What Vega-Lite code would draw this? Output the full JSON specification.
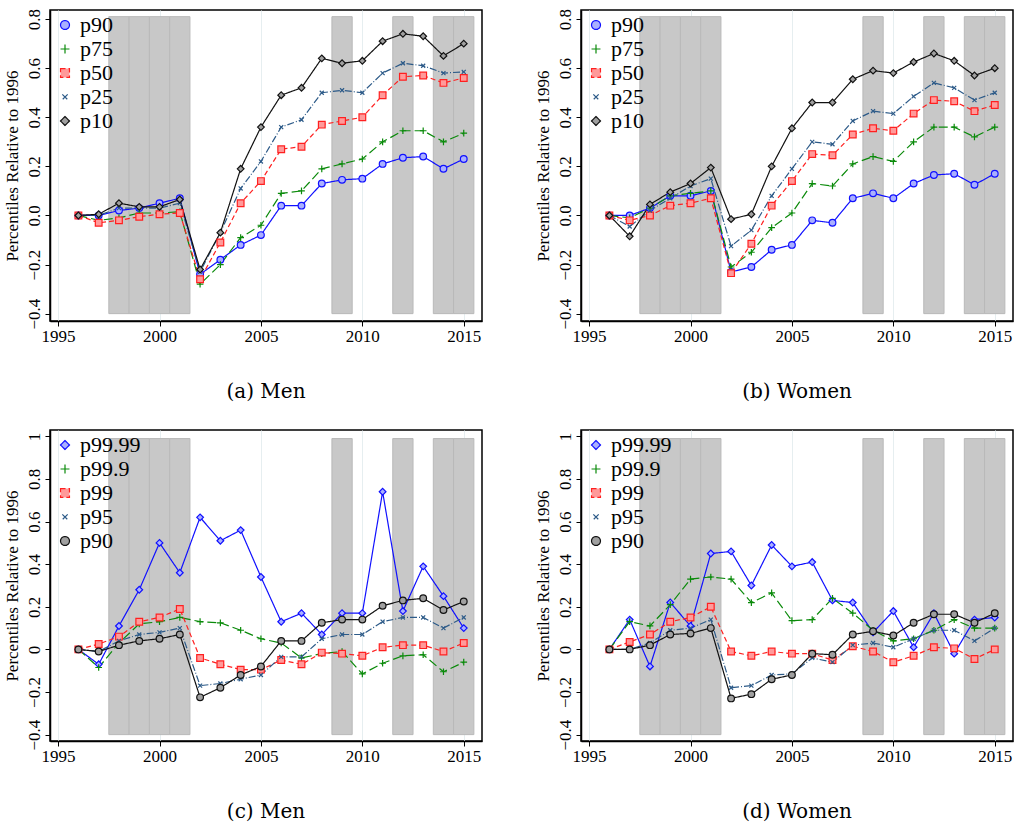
{
  "$schema": "https://vega.github.io/schema/vega-lite/v6.json",
  "background": "white",
  "padding": {"left": 2, "top": 7, "right": 0, "bottom": 5},
  "config": {
    "view": {"stroke": "black", "strokeWidth": 1.5},
    "axis": {"labelFont": "Times New Roman, Liberation Serif, serif", "labelFontSize": 17, "labelColor": "black", "titleFont": "Times New Roman, Liberation Serif, serif", "titleFontSize": 17, "titleFontWeight": "normal", "gridColor": "#e6eef0", "tickColor": "black", "domainColor": "black", "domainWidth": 1.5},
    "legend": {"labelFont": "Times New Roman, Liberation Serif, serif", "labelFontSize": 22, "orient": "top-left", "offset": 4, "symbolSize": 80, "symbolStrokeWidth": 1.2, "rowPadding": 2},
    "title": {"font": "DejaVu Serif", "fontSize": 20, "fontWeight": "normal", "orient": "bottom", "offset": 38}
  },
  "datasets": {
    "bands": [
      {"a": 1997.5, "b": 1998.5}, {"a": 1998.5, "b": 1999.5}, {"a": 1999.5, "b": 2000.5}, {"a": 2000.5, "b": 2001.5},
      {"a": 2008.5, "b": 2009.5}, {"a": 2011.5, "b": 2012.5}, {"a": 2013.5, "b": 2014.5}, {"a": 2014.5, "b": 2015.5}
    ],
    "men": [
      {"year": 1996, "p90": 0, "p75": 0, "p50": 0, "p25": 0, "p10": 0},
      {"year": 1997, "p90": 0, "p75": -0.02, "p50": -0.03, "p25": 0, "p10": 0.005},
      {"year": 1998, "p90": 0.02, "p75": -0.01, "p50": -0.02, "p25": 0.03, "p10": 0.05},
      {"year": 1999, "p90": 0.03, "p75": 0.01, "p50": -0.005, "p25": 0.03, "p10": 0.035},
      {"year": 2000, "p90": 0.05, "p75": 0.01, "p50": 0.005, "p25": 0.03, "p10": 0.035},
      {"year": 2001, "p90": 0.07, "p75": 0.015, "p50": 0.01, "p25": 0.05, "p10": 0.065},
      {"year": 2002, "p90": -0.24, "p75": -0.28, "p50": -0.26, "p25": -0.23, "p10": -0.22},
      {"year": 2003, "p90": -0.18, "p75": -0.2, "p50": -0.11, "p25": -0.07, "p10": -0.07},
      {"year": 2004, "p90": -0.12, "p75": -0.09, "p50": 0.05, "p25": 0.11, "p10": 0.19},
      {"year": 2005, "p90": -0.08, "p75": -0.04, "p50": 0.14, "p25": 0.22, "p10": 0.36},
      {"year": 2006, "p90": 0.04, "p75": 0.09, "p50": 0.27, "p25": 0.36, "p10": 0.49},
      {"year": 2007, "p90": 0.04, "p75": 0.1, "p50": 0.28, "p25": 0.39, "p10": 0.52},
      {"year": 2008, "p90": 0.13, "p75": 0.19, "p50": 0.37, "p25": 0.5, "p10": 0.64},
      {"year": 2009, "p90": 0.145, "p75": 0.21, "p50": 0.385, "p25": 0.51, "p10": 0.62},
      {"year": 2010, "p90": 0.15, "p75": 0.23, "p50": 0.4, "p25": 0.5, "p10": 0.63},
      {"year": 2011, "p90": 0.21, "p75": 0.3, "p50": 0.49, "p25": 0.58, "p10": 0.71},
      {"year": 2012, "p90": 0.235, "p75": 0.345, "p50": 0.565, "p25": 0.62, "p10": 0.74},
      {"year": 2013, "p90": 0.24, "p75": 0.345, "p50": 0.57, "p25": 0.61, "p10": 0.73},
      {"year": 2014, "p90": 0.19, "p75": 0.3, "p50": 0.54, "p25": 0.58, "p10": 0.65},
      {"year": 2015, "p90": 0.23, "p75": 0.335, "p50": 0.56, "p25": 0.585, "p10": 0.7}
    ],
    "women": [
      {"year": 1996, "p90": 0, "p75": 0, "p50": 0, "p25": 0, "p10": 0},
      {"year": 1997, "p90": 0, "p75": -0.01, "p50": -0.02, "p25": -0.045, "p10": -0.085},
      {"year": 1998, "p90": 0.03, "p75": 0.03, "p50": 0, "p25": 0.02, "p10": 0.045},
      {"year": 1999, "p90": 0.08, "p75": 0.08, "p50": 0.04, "p25": 0.07, "p10": 0.095},
      {"year": 2000, "p90": 0.08, "p75": 0.09, "p50": 0.05, "p25": 0.12, "p10": 0.13},
      {"year": 2001, "p90": 0.1, "p75": 0.1, "p50": 0.07, "p25": 0.15, "p10": 0.195},
      {"year": 2002, "p90": -0.23, "p75": -0.21, "p50": -0.235, "p25": -0.125, "p10": -0.015},
      {"year": 2003, "p90": -0.21, "p75": -0.15, "p50": -0.115, "p25": -0.06, "p10": 0.005},
      {"year": 2004, "p90": -0.14, "p75": -0.05, "p50": 0.04, "p25": 0.08, "p10": 0.2},
      {"year": 2005, "p90": -0.12, "p75": 0.01, "p50": 0.14, "p25": 0.19, "p10": 0.355},
      {"year": 2006, "p90": -0.02, "p75": 0.13, "p50": 0.25, "p25": 0.3, "p10": 0.46},
      {"year": 2007, "p90": -0.03, "p75": 0.12, "p50": 0.245, "p25": 0.29, "p10": 0.46},
      {"year": 2008, "p90": 0.07, "p75": 0.21, "p50": 0.33, "p25": 0.385, "p10": 0.555},
      {"year": 2009, "p90": 0.09, "p75": 0.24, "p50": 0.355, "p25": 0.425, "p10": 0.59},
      {"year": 2010, "p90": 0.07, "p75": 0.22, "p50": 0.345, "p25": 0.415, "p10": 0.58},
      {"year": 2011, "p90": 0.13, "p75": 0.3, "p50": 0.415, "p25": 0.485, "p10": 0.625},
      {"year": 2012, "p90": 0.165, "p75": 0.36, "p50": 0.47, "p25": 0.54, "p10": 0.66},
      {"year": 2013, "p90": 0.17, "p75": 0.36, "p50": 0.465, "p25": 0.52, "p10": 0.63},
      {"year": 2014, "p90": 0.125, "p75": 0.32, "p50": 0.425, "p25": 0.47, "p10": 0.57},
      {"year": 2015, "p90": 0.17, "p75": 0.36, "p50": 0.45, "p25": 0.5, "p10": 0.6}
    ],
    "menT": [
      {"year": 1996, "p99_99": 0, "p99_9": 0, "p99": 0, "p95": 0, "p90": 0},
      {"year": 1997, "p99_99": -0.07, "p99_9": -0.085, "p99": 0.025, "p95": -0.01, "p90": -0.01},
      {"year": 1998, "p99_99": 0.11, "p99_9": 0.03, "p99": 0.06, "p95": 0.04, "p90": 0.02},
      {"year": 1999, "p99_99": 0.28, "p99_9": 0.12, "p99": 0.13, "p95": 0.07, "p90": 0.04},
      {"year": 2000, "p99_99": 0.5, "p99_9": 0.13, "p99": 0.15, "p95": 0.08, "p90": 0.05},
      {"year": 2001, "p99_99": 0.36, "p99_9": 0.15, "p99": 0.19, "p95": 0.1, "p90": 0.07},
      {"year": 2002, "p99_99": 0.62, "p99_9": 0.13, "p99": -0.04, "p95": -0.17, "p90": -0.225},
      {"year": 2003, "p99_99": 0.51, "p99_9": 0.125, "p99": -0.07, "p95": -0.16, "p90": -0.18},
      {"year": 2004, "p99_99": 0.56, "p99_9": 0.09, "p99": -0.095, "p95": -0.14, "p90": -0.12},
      {"year": 2005, "p99_99": 0.34, "p99_9": 0.05, "p99": -0.095, "p95": -0.12, "p90": -0.08},
      {"year": 2006, "p99_99": 0.13, "p99_9": 0.03, "p99": -0.05, "p95": -0.035, "p90": 0.04},
      {"year": 2007, "p99_99": 0.17, "p99_9": -0.04, "p99": -0.07, "p95": -0.035, "p90": 0.04},
      {"year": 2008, "p99_99": 0.07, "p99_9": -0.02, "p99": -0.015, "p95": 0.05, "p90": 0.125},
      {"year": 2009, "p99_99": 0.17, "p99_9": -0.01, "p99": -0.02, "p95": 0.07, "p90": 0.14},
      {"year": 2010, "p99_99": 0.17, "p99_9": -0.115, "p99": -0.03, "p95": 0.07, "p90": 0.14},
      {"year": 2011, "p99_99": 0.74, "p99_9": -0.065, "p99": 0.01, "p95": 0.13, "p90": 0.205},
      {"year": 2012, "p99_99": 0.18, "p99_9": -0.03, "p99": 0.02, "p95": 0.15, "p90": 0.23},
      {"year": 2013, "p99_99": 0.39, "p99_9": -0.025, "p99": 0.02, "p95": 0.15, "p90": 0.24},
      {"year": 2014, "p99_99": 0.25, "p99_9": -0.105, "p99": -0.01, "p95": 0.1, "p90": 0.185},
      {"year": 2015, "p99_99": 0.1, "p99_9": -0.06, "p99": 0.03, "p95": 0.15, "p90": 0.225}
    ],
    "womenT": [
      {"year": 1996, "p99_99": 0, "p99_9": 0, "p99": 0, "p95": 0, "p90": 0},
      {"year": 1997, "p99_99": 0.14, "p99_9": 0.13, "p99": 0.035, "p95": 0, "p90": 0},
      {"year": 1998, "p99_99": -0.08, "p99_9": 0.11, "p99": 0.07, "p95": 0.03, "p90": 0.02},
      {"year": 1999, "p99_99": 0.22, "p99_9": 0.21, "p99": 0.13, "p95": 0.09, "p90": 0.07},
      {"year": 2000, "p99_99": 0.11, "p99_9": 0.33, "p99": 0.15, "p95": 0.1, "p90": 0.075},
      {"year": 2001, "p99_99": 0.45, "p99_9": 0.34, "p99": 0.2, "p95": 0.14, "p90": 0.1},
      {"year": 2002, "p99_99": 0.46, "p99_9": 0.33, "p99": -0.01, "p95": -0.18, "p90": -0.23},
      {"year": 2003, "p99_99": 0.3, "p99_9": 0.22, "p99": -0.03, "p95": -0.17, "p90": -0.21},
      {"year": 2004, "p99_99": 0.49, "p99_9": 0.265, "p99": -0.01, "p95": -0.12, "p90": -0.14},
      {"year": 2005, "p99_99": 0.39, "p99_9": 0.135, "p99": -0.02, "p95": -0.115, "p90": -0.12},
      {"year": 2006, "p99_99": 0.41, "p99_9": 0.14, "p99": -0.02, "p95": -0.04, "p90": -0.02},
      {"year": 2007, "p99_99": 0.23, "p99_9": 0.24, "p99": -0.05, "p95": -0.06, "p90": -0.025},
      {"year": 2008, "p99_99": 0.22, "p99_9": 0.17, "p99": 0.015, "p95": 0.02, "p90": 0.07},
      {"year": 2009, "p99_99": 0.08, "p99_9": 0.09, "p99": -0.01, "p95": 0.03, "p90": 0.085},
      {"year": 2010, "p99_99": 0.18, "p99_9": 0.04, "p99": -0.06, "p95": 0.01, "p90": 0.065},
      {"year": 2011, "p99_99": 0.01, "p99_9": 0.05, "p99": -0.03, "p95": 0.05, "p90": 0.125},
      {"year": 2012, "p99_99": 0.17, "p99_9": 0.09, "p99": 0.01, "p95": 0.09, "p90": 0.165},
      {"year": 2013, "p99_99": -0.02, "p99_9": 0.14, "p99": 0.005, "p95": 0.09, "p90": 0.165},
      {"year": 2014, "p99_99": 0.14, "p99_9": 0.1, "p99": -0.045, "p95": 0.04, "p90": 0.125},
      {"year": 2015, "p99_99": 0.15, "p99_9": 0.1, "p99": 0, "p95": 0.1, "p90": 0.17}
    ]
  },
  "vconcat": [
    {"hconcat": [
      {"title": "(a) Men", "width": 432, "height": 311,
       "layer": [
        {"data": {"name": "bands"}, "mark": {"type": "rect", "fill": "#c8c8c8", "stroke": "#b9b9b9", "strokeWidth": 1},
         "encoding": {"x": {"field": "a", "type": "quantitative", "scale": {"domain": [1994.6, 2015.9], "nice": false, "zero": false}, "axis": {"values": [1995, 2000, 2005, 2010, 2015], "format": "d", "title": null}}, "x2": {"field": "b"},
           "y": {"datum": -0.4, "type": "quantitative", "scale": {"domain": [-0.43, 0.837], "nice": false}, "axis": {"values": [-0.4, -0.2, 0, 0.2, 0.4, 0.6, 0.8], "format": ".1f", "labelAngle": -90, "labelAlign": "center", "labelBaseline": "bottom", "title": "Percentiles Relative to 1996"}}, "y2": {"datum": 0.81}}},
        {"data": {"name": "men"}, "transform": [{"fold": ["p90", "p75", "p50", "p25", "p10"], "as": ["s", "v"]}],
         "mark": {"type": "line", "strokeWidth": 1.2},
         "encoding": {"x": {"field": "year", "type": "quantitative"}, "y": {"field": "v", "type": "quantitative"},
           "color": {"field": "s", "type": "nominal", "title": null, "scale": {"domain": ["p90", "p75", "p50", "p25", "p10"], "range": ["#1010ff", "#0a8a0a", "#ff2020", "#2c5a88", "#111111"]}},
           "strokeDash": {"field": "s", "type": "nominal", "title": null, "scale": {"domain": ["p90", "p75", "p50", "p25", "p10"], "range": [[1, 0], [9, 4], [5, 3], [7, 2, 1, 2], [1, 0]]}}}},
        {"data": {"name": "men"}, "transform": [{"fold": ["p90", "p75", "p50", "p25", "p10"], "as": ["s", "v"]}],
         "mark": {"type": "point", "size": 45, "strokeWidth": 1.2, "opacity": 1},
         "encoding": {"x": {"field": "year", "type": "quantitative"}, "y": {"field": "v", "type": "quantitative"},
           "color": {"field": "s", "type": "nominal", "title": null},
           "fill": {"field": "s", "type": "nominal", "title": null, "scale": {"domain": ["p90", "p75", "p50", "p25", "p10"], "range": ["#aab0ff", "transparent", "#ff9a9a", "transparent", "#a0a0a0"]}},
           "shape": {"field": "s", "type": "nominal", "title": null, "scale": {"domain": ["p90", "p75", "p50", "p25", "p10"], "range": ["circle", "M-1,0H1M0,-1V1", "square", "M-0.6,-0.6L0.6,0.6M0.6,-0.6L-0.6,0.6", "diamond"]}}}}
       ]},
      {"title": "(b) Women", "width": 432, "height": 311,
       "layer": [
        {"data": {"name": "bands"}, "mark": {"type": "rect", "fill": "#c8c8c8", "stroke": "#b9b9b9", "strokeWidth": 1},
         "encoding": {"x": {"field": "a", "type": "quantitative", "scale": {"domain": [1994.6, 2015.9], "nice": false, "zero": false}, "axis": {"values": [1995, 2000, 2005, 2010, 2015], "format": "d", "title": null}}, "x2": {"field": "b"},
           "y": {"datum": -0.4, "type": "quantitative", "scale": {"domain": [-0.43, 0.837], "nice": false}, "axis": {"values": [-0.4, -0.2, 0, 0.2, 0.4, 0.6, 0.8], "format": ".1f", "labelAngle": -90, "labelAlign": "center", "labelBaseline": "bottom", "title": "Percentiles Relative to 1996"}}, "y2": {"datum": 0.81}}},
        {"data": {"name": "women"}, "transform": [{"fold": ["p90", "p75", "p50", "p25", "p10"], "as": ["s", "v"]}],
         "mark": {"type": "line", "strokeWidth": 1.2},
         "encoding": {"x": {"field": "year", "type": "quantitative"}, "y": {"field": "v", "type": "quantitative"},
           "color": {"field": "s", "type": "nominal", "title": null, "scale": {"domain": ["p90", "p75", "p50", "p25", "p10"], "range": ["#1010ff", "#0a8a0a", "#ff2020", "#2c5a88", "#111111"]}},
           "strokeDash": {"field": "s", "type": "nominal", "title": null, "scale": {"domain": ["p90", "p75", "p50", "p25", "p10"], "range": [[1, 0], [9, 4], [5, 3], [7, 2, 1, 2], [1, 0]]}}}},
        {"data": {"name": "women"}, "transform": [{"fold": ["p90", "p75", "p50", "p25", "p10"], "as": ["s", "v"]}],
         "mark": {"type": "point", "size": 45, "strokeWidth": 1.2, "opacity": 1},
         "encoding": {"x": {"field": "year", "type": "quantitative"}, "y": {"field": "v", "type": "quantitative"},
           "color": {"field": "s", "type": "nominal", "title": null},
           "fill": {"field": "s", "type": "nominal", "title": null, "scale": {"domain": ["p90", "p75", "p50", "p25", "p10"], "range": ["#aab0ff", "transparent", "#ff9a9a", "transparent", "#a0a0a0"]}},
           "shape": {"field": "s", "type": "nominal", "title": null, "scale": {"domain": ["p90", "p75", "p50", "p25", "p10"], "range": ["circle", "M-1,0H1M0,-1V1", "square", "M-0.6,-0.6L0.6,0.6M0.6,-0.6L-0.6,0.6", "diamond"]}}}}
       ]}
    ], "spacing": 50, "resolve": {"scale": {"color": "independent", "fill": "independent", "shape": "independent", "strokeDash": "independent"}}},
    {"hconcat": [
      {"title": "(c) Men", "width": 432, "height": 311,
       "layer": [
        {"data": {"name": "bands"}, "mark": {"type": "rect", "fill": "#c8c8c8", "stroke": "#b9b9b9", "strokeWidth": 1},
         "encoding": {"x": {"field": "a", "type": "quantitative", "scale": {"domain": [1994.6, 2015.9], "nice": false, "zero": false}, "axis": {"values": [1995, 2000, 2005, 2010, 2015], "format": "d", "title": null}}, "x2": {"field": "b"},
           "y": {"datum": -0.4, "type": "quantitative", "scale": {"domain": [-0.43, 1.03], "nice": false}, "axis": {"values": [-0.4, -0.2, 0, 0.2, 0.4, 0.6, 0.8, 1], "labelExpr": "datum.value == 0 || datum.value == 1 ? format(datum.value, 'd') : format(datum.value, '.1f')", "labelAngle": -90, "labelAlign": "center", "labelBaseline": "bottom", "title": "Percentiles Relative to 1996"}}, "y2": {"datum": 0.99}}},
        {"data": {"name": "menT"}, "transform": [{"fold": ["p99_99", "p99_9", "p99", "p95", "p90"], "as": ["s", "v"]}],
         "mark": {"type": "line", "strokeWidth": 1.2},
         "encoding": {"x": {"field": "year", "type": "quantitative"}, "y": {"field": "v", "type": "quantitative"},
           "color": {"field": "s", "type": "nominal", "title": null, "legend": {"labelExpr": "replace(datum.label, '_', '.')"}, "scale": {"domain": ["p99_99", "p99_9", "p99", "p95", "p90"], "range": ["#1010ff", "#0a8a0a", "#ff2020", "#2c5a88", "#111111"]}},
           "strokeDash": {"field": "s", "type": "nominal", "title": null, "legend": {"labelExpr": "replace(datum.label, '_', '.')"}, "scale": {"domain": ["p99_99", "p99_9", "p99", "p95", "p90"], "range": [[1, 0], [9, 4], [5, 3], [7, 2, 1, 2], [1, 0]]}}}},
        {"data": {"name": "menT"}, "transform": [{"fold": ["p99_99", "p99_9", "p99", "p95", "p90"], "as": ["s", "v"]}],
         "mark": {"type": "point", "size": 45, "strokeWidth": 1.2, "opacity": 1},
         "encoding": {"x": {"field": "year", "type": "quantitative"}, "y": {"field": "v", "type": "quantitative"},
           "color": {"field": "s", "type": "nominal", "title": null, "legend": {"labelExpr": "replace(datum.label, '_', '.')"}},
           "fill": {"field": "s", "type": "nominal", "title": null, "legend": {"labelExpr": "replace(datum.label, '_', '.')"}, "scale": {"domain": ["p99_99", "p99_9", "p99", "p95", "p90"], "range": ["#aab0ff", "transparent", "#ff9a9a", "transparent", "#a0a0a0"]}},
           "shape": {"field": "s", "type": "nominal", "title": null, "legend": {"labelExpr": "replace(datum.label, '_', '.')"}, "scale": {"domain": ["p99_99", "p99_9", "p99", "p95", "p90"], "range": ["diamond", "M-1,0H1M0,-1V1", "square", "M-0.6,-0.6L0.6,0.6M0.6,-0.6L-0.6,0.6", "circle"]}}}}
       ]},
      {"title": "(d) Women", "width": 432, "height": 311,
       "layer": [
        {"data": {"name": "bands"}, "mark": {"type": "rect", "fill": "#c8c8c8", "stroke": "#b9b9b9", "strokeWidth": 1},
         "encoding": {"x": {"field": "a", "type": "quantitative", "scale": {"domain": [1994.6, 2015.9], "nice": false, "zero": false}, "axis": {"values": [1995, 2000, 2005, 2010, 2015], "format": "d", "title": null}}, "x2": {"field": "b"},
           "y": {"datum": -0.4, "type": "quantitative", "scale": {"domain": [-0.43, 1.03], "nice": false}, "axis": {"values": [-0.4, -0.2, 0, 0.2, 0.4, 0.6, 0.8, 1], "labelExpr": "datum.value == 0 || datum.value == 1 ? format(datum.value, 'd') : format(datum.value, '.1f')", "labelAngle": -90, "labelAlign": "center", "labelBaseline": "bottom", "title": "Percentiles Relative to 1996"}}, "y2": {"datum": 0.99}}},
        {"data": {"name": "womenT"}, "transform": [{"fold": ["p99_99", "p99_9", "p99", "p95", "p90"], "as": ["s", "v"]}],
         "mark": {"type": "line", "strokeWidth": 1.2},
         "encoding": {"x": {"field": "year", "type": "quantitative"}, "y": {"field": "v", "type": "quantitative"},
           "color": {"field": "s", "type": "nominal", "title": null, "legend": {"labelExpr": "replace(datum.label, '_', '.')"}, "scale": {"domain": ["p99_99", "p99_9", "p99", "p95", "p90"], "range": ["#1010ff", "#0a8a0a", "#ff2020", "#2c5a88", "#111111"]}},
           "strokeDash": {"field": "s", "type": "nominal", "title": null, "legend": {"labelExpr": "replace(datum.label, '_', '.')"}, "scale": {"domain": ["p99_99", "p99_9", "p99", "p95", "p90"], "range": [[1, 0], [9, 4], [5, 3], [7, 2, 1, 2], [1, 0]]}}}},
        {"data": {"name": "womenT"}, "transform": [{"fold": ["p99_99", "p99_9", "p99", "p95", "p90"], "as": ["s", "v"]}],
         "mark": {"type": "point", "size": 45, "strokeWidth": 1.2, "opacity": 1},
         "encoding": {"x": {"field": "year", "type": "quantitative"}, "y": {"field": "v", "type": "quantitative"},
           "color": {"field": "s", "type": "nominal", "title": null, "legend": {"labelExpr": "replace(datum.label, '_', '.')"}},
           "fill": {"field": "s", "type": "nominal", "title": null, "legend": {"labelExpr": "replace(datum.label, '_', '.')"}, "scale": {"domain": ["p99_99", "p99_9", "p99", "p95", "p90"], "range": ["#aab0ff", "transparent", "#ff9a9a", "transparent", "#a0a0a0"]}},
           "shape": {"field": "s", "type": "nominal", "title": null, "legend": {"labelExpr": "replace(datum.label, '_', '.')"}, "scale": {"domain": ["p99_99", "p99_9", "p99", "p95", "p90"], "range": ["diamond", "M-1,0H1M0,-1V1", "square", "M-0.6,-0.6L0.6,0.6M0.6,-0.6L-0.6,0.6", "circle"]}}}}
       ]}
    ], "spacing": 50, "resolve": {"scale": {"color": "independent", "fill": "independent", "shape": "independent", "strokeDash": "independent"}}}
  ],
  "spacing": 26,
  "resolve": {"scale": {"color": "independent", "fill": "independent", "shape": "independent", "strokeDash": "independent"}}
}
